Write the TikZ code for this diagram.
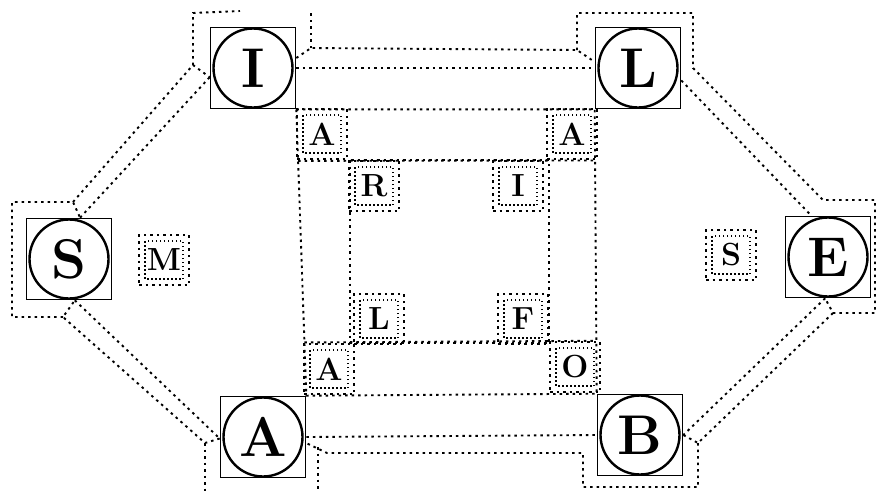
\documentclass[tikz,border=0pt]{standalone}
\usepackage{tikz}
\usetikzlibrary{calc,positioning}
\tikzset{
  wall/.style={line width=1.9pt, dash pattern=on 2.5pt off 4pt},
  bastion/.style={draw, line width=1.6pt, minimum width=85pt, minimum height=81pt, inner sep=0pt,
    font=\fontsize{56}{56}\selectfont\bfseries,
    path picture={\draw[line width=2.4pt] (path picture bounding box.center) circle (39.5pt);}},
  cell/.style={wall, draw, minimum width=50pt, minimum height=50pt, inner sep=0pt,
    font=\fontsize{32}{32}\selectfont\bfseries,
    path picture={\draw[line width=1.2pt, dash pattern=on 1.5pt off 2.5pt]
      ([shift={(6pt,-6pt)}]path picture bounding box.north west) rectangle
      ([shift={(-6pt,6pt)}]path picture bounding box.south east);}}
}
\begin{document}
\begin{tikzpicture}[x=1pt,y=-1pt]
\useasboundingbox (0,0) rectangle (880,491);
\node[bastion] (bI) at (253,68) {I};
\node[bastion] (bL) at (638,68) {L};
\node[bastion] (bS) at (69,259) {S};
\node[bastion] (bE) at (828,257) {E};
\node[bastion] (bA) at (263,437) {A};
\node[bastion] (bB) at (640,435) {B};
\coordinate (i1) at (311,48); \coordinate (i2) at (311,13);
\coordinate (i3) at (193,65); \coordinate (i4) at (193,13); \coordinate (i5) at (240,11);
\coordinate (l1) at (577,50); \coordinate (l2) at (577,13);
\coordinate (l3) at (693,13); \coordinate (l4) at (693,68);
\coordinate (e1) at (823,200); \coordinate (e2) at (875,200);
\coordinate (e3) at (875,313); \coordinate (e4) at (833,313);
\coordinate (b1) at (698,443); \coordinate (b2) at (698,487);
\coordinate (b3) at (583,487); \coordinate (b4) at (583,453);
\coordinate (a1) at (327,453); \coordinate (a2) at (318,447); \coordinate (a3) at (318,491);
\coordinate (a4) at (205,443); \coordinate (a5) at (205,491);
\coordinate (s1) at (63,317); \coordinate (s2) at (12,317);
\coordinate (s3) at (12,202); \coordinate (s4) at (73,202);
\coordinate (r1) at (350,160); \coordinate (r3) at (549,343);
\draw[wall] (bI.east) -- (bL.west);
\draw[wall] (bI.13) -- (i1) -- (l1) -- (bL.172);
\draw[wall] (i1) -- (i2);
\draw[wall] (l1) -- (l2) -- (l3) -- (l4) -- (e1) -- (e2) -- (e3) -- (e4) -- (bE.266);
\draw[wall] (bL.344) -- (bE.112);
\draw[wall] (bE.266) -- (bB.east);
\draw[wall] (e4) -- (b1) -- (bB.east);
\draw[wall] (b1) -- (b2) -- (b3) -- (b4) -- (a1) -- (bA.-8);
\draw[wall] (a2) -- (a3);
\draw[wall] (bA.east) -- (bB.west);
\draw[wall] (bS.278) -- (bA.182);
\draw[wall] (bA.182) -- (a4) -- (s1) -- (bS.278);
\draw[wall] (a4) -- (a5);
\draw[wall] (s1) -- (s2) -- (s3) -- (s4) -- (bS.75);
\draw[wall] (bS.75) -- (bI.192);
\draw[wall] (s4) -- (i3) -- (bI.192);
\draw[wall] (i3) -- (i4) -- (i5);
\draw[wall] (bI.south east) -- (bL.south west) -- (bB.north west) -- (bA.north east) -- cycle;
\draw[wall] ($(bI.south east)!0.18!(bA.north east)$) -- ($(bL.south west)!0.18!(bB.north west)$);
\draw[wall] ($(bI.south east)!0.814!(bA.north east)$) -- ($(bL.south west)!0.814!(bB.north west)$);
\draw[wall] (r1) rectangle (r3);
\node[cell] (cM) at (164,260) {M};
\node[cell] (cS) at (731,255) {S};
\node[cell] (cA1) at (322,134) {A};
\node[cell] (cA2) at (572,134) {A};
\node[cell] (cR) at (374,186) {R};
\node[cell] (cI) at (518,186) {I};
\node[cell] (cL) at (379,319) {L};
\node[cell] (cF) at (523,319) {F};
\node[cell] (cA3) at (329,369) {A};
\node[cell] (cO) at (575,367) {O};
\end{tikzpicture}
\end{document}
